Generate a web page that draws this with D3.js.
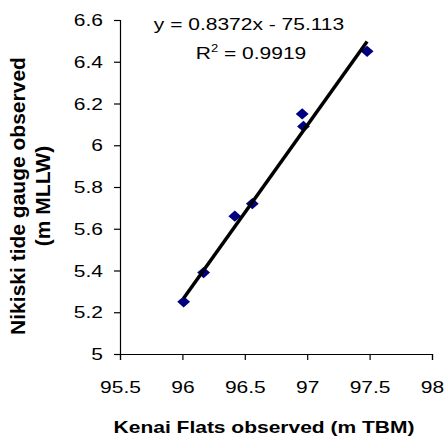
<!DOCTYPE html>
<html>
<head>
<meta charset="utf-8">
<script src="https://cdn.jsdelivr.net/npm/d3@7"></script>
<style>
  body { margin: 0; background: #fff; }
  text { font-family: Arial, "Liberation Sans", sans-serif; }
</style>
</head>
<body>
<div id="chart"></div>
<script>
// observed pairs
var kenaiX = [96.01, 96.17, 96.42, 96.56, 96.96, 96.97, 97.48];
var nikiskiY = [5.25, 5.39, 5.66, 5.72, 6.15, 6.09, 6.45];
var xTicks = [95.5, 96, 96.5, 97, 97.5, 98];
var yTicks = [5, 5.2, 5.4, 5.6, 5.8, 6, 6.2, 6.4, 6.6];
var slope = 0.8372, intercept = -75.113;

var width = 447, height = 443;
var squash = 0.82; // the original image is flattened vertically

var svg = d3.select("#chart").append("svg")
  .attr("width", width)
  .attr("height", height);

var x = d3.scaleLinear().domain([95.5, 98]).range([120, 432]);
var y = d3.scaleLinear().domain([5, 6.6]).range([354, 20]);

var fmt = function (d) { return String(d); };

// y axis
var gy = svg.append("g")
  .attr("transform", "translate(120,0)")
  .call(d3.axisLeft(y).tickValues(yTicks).tickFormat(fmt).tickSize(6).tickPadding(11));

// x axis
var gx = svg.append("g")
  .attr("transform", "translate(0,354)")
  .call(d3.axisBottom(x).tickValues(xTicks).tickFormat(fmt).tickSize(6));

[gx, gy].forEach(function (g) {
  g.select(".domain").attr("stroke", "#000").attr("stroke-width", 1.2);
  g.selectAll(".tick line").attr("stroke", "#000").attr("stroke-width", 1.2);
  g.selectAll(".tick text").attr("fill", "#000")
    .attr("transform", "scale(1," + squash + ")")
    .style("font-size", "21px")
    .style("font-family", "Arial, 'Liberation Sans', sans-serif");
});
gx.selectAll(".tick text").attr("y", 39 / squash).attr("dy", 0);

// markers
svg.append("g").selectAll("path")
  .data(kenaiX)
  .enter().append("path")
  .attr("d", d3.symbol().type(d3.symbolDiamond2).size(105))
  .attr("transform", function (d, i) {
    return "translate(" + x(d) + "," + y(nikiskiY[i]) + ") scale(1,0.88)";
  })
  .attr("fill", "#000080");

// trend line over the data range
var xMin = d3.min(kenaiX), xMax = d3.max(kenaiX);
svg.append("line")
  .attr("x1", x(xMin)).attr("y1", y(slope * xMin + intercept))
  .attr("x2", x(xMax)).attr("y2", y(slope * xMax + intercept))
  .attr("stroke", "#000")
  .attr("stroke-width", 3.5);

// equation
svg.append("text")
  .attr("transform", "translate(249,30) scale(1," + squash + ")")
  .attr("text-anchor", "middle")
  .style("font-size", "21px")
  .text("y = 0.8372x - 75.113");

var r2 = svg.append("text")
  .attr("transform", "translate(251,59) scale(1," + squash + ")")
  .attr("text-anchor", "middle")
  .style("font-size", "21px");
r2.append("tspan").text("R");
r2.append("tspan").attr("dy", -8).style("font-size", "13px").text("2");
r2.append("tspan").attr("dy", 8).text(" = 0.9919");

// axis titles
svg.append("text")
  .attr("transform", "translate(264,433) scale(1," + squash + ")")
  .attr("text-anchor", "middle")
  .style("font-size", "21px")
  .style("font-weight", "bold")
  .text("Kenai Flats observed (m TBM)");

var yt = svg.append("text")
  .attr("transform", "translate(0,196) rotate(-90)")
  .attr("text-anchor", "middle")
  .style("font-size", "21px")
  .style("font-weight", "bold");
yt.append("tspan").attr("x", 0).attr("y", 25).text("Nikiski tide gauge observed");
yt.append("tspan").attr("x", 0).attr("y", 50).text("(m MLLW)");
</script>
</body>
</html>
